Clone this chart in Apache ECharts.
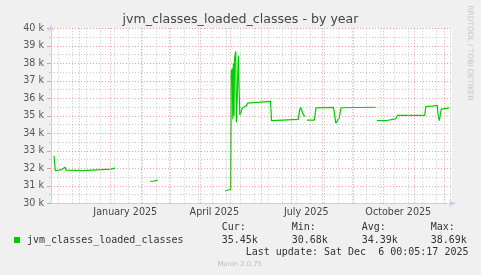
<!DOCTYPE html>
<html>
<head>
<meta charset="utf-8">
<script src="https://cdn.jsdelivr.net/npm/echarts@6/dist/echarts.min.js"></script>
<style>
html,body{margin:0;padding:0;background:#f0f0f0;}
#chart{width:481px;height:275px;}
</style>
</head>
<body>
<div id="chart"></div>
<script>
// ---- data ----
const titleText = 'jvm_classes_loaded_classes - by year';
const seriesName = 'jvm_classes_loaded_classes';
const seriesDates = [
  '2024-11-05 17:00','2024-11-07 00:00','2024-11-08 17:00','2024-11-10 17:00','2024-11-12 17:00',
  '2024-11-13 17:00','2024-11-15 17:00','2024-11-16 17:00','2024-11-17 17:00','2024-11-19 00:00',
  '2024-12-04 10:00','2024-12-05 00:00','2025-01-01 10:00','2025-01-01 22:00','2025-01-05 17:00',
  '2025-01-06 12:00',
  '2025-02-09 17:00','2025-02-13 12:00','2025-02-14 00:00','2025-02-17 10:00',
  '2025-02-18 12:00',
  '2025-04-25 17:00','2025-04-27 05:00','2025-05-01 10:00','2025-05-01 22:00','2025-05-03 00:00',
  '2025-05-03 12:00','2025-05-04 02:00','2025-05-04 17:00','2025-05-05 07:00','2025-05-06 10:00',
  '2025-05-07 02:00','2025-05-08 00:00','2025-05-09 00:00','2025-05-09 14:00','2025-05-10 12:00',
  '2025-05-11 17:00','2025-05-13 00:00','2025-05-14 17:00','2025-05-17 05:00','2025-05-18 05:00',
  '2025-05-19 10:00','2025-06-10 05:00','2025-06-11 05:00','2025-06-12 22:00','2025-07-08 00:00',
  '2025-07-09 05:00','2025-07-10 07:00','2025-07-12 05:00','2025-07-13 05:00','2025-07-14 12:00',
  '2025-07-15 12:00',
  '2025-07-16 12:00','2025-07-24 00:00','2025-07-25 17:00','2025-08-12 05:00','2025-08-13 17:00',
  '2025-08-14 12:00','2025-08-16 05:00','2025-08-18 00:00','2025-08-19 17:00','2025-09-23 05:00',
  '2025-09-24 05:00',
  '2025-09-24 12:00','2025-10-04 10:00','2025-10-05 05:00','2025-10-13 05:00','2025-10-15 05:00',
  '2025-11-11 12:00','2025-11-12 12:00','2025-11-19 10:00','2025-11-20 05:00','2025-11-23 22:00',
  '2025-11-24 17:00','2025-11-26 00:00','2025-11-28 00:00','2025-11-29 17:00','2025-12-06 00:00'
];
const seriesValues = [
  32700,31860,31940,31900,31880,
  31940,31980,32060,31900,31870,
  31870,31950,31950,32010,32010,
  null,
  31260,31270,31320,31330,
  null,
  30700,30780,30800,37500,37700,
  34800,38000,35000,38300,38690,
  34620,36200,38450,38530,35050,
  35200,35450,35550,35580,35720,
  35810,35820,34720,34800,34800,
  35300,35490,35490,35050,34960,
  null,
  34750,34750,35450,35480,34900,
  34580,34650,34890,35460,35490,
  null,
  34730,34730,34800,34820,35030,
  35030,35520,35550,35600,35600,
  35100,34720,35380,35430,35450
];
const xRange = ['2024-11-02 17:00','2025-12-08 17:00'];
const yMin = 30000, yMax = 40000, yStep = 1000;
const majorGridDates = ['2024-12-01','2025-01-01','2025-02-01','2025-03-01','2025-04-01','2025-05-01',
  '2025-06-01','2025-07-01','2025-08-01','2025-09-01','2025-10-01','2025-11-01','2025-12-01'];
const minorGridDates = ['2024-11-10','2024-11-24','2024-12-08','2024-12-22','2025-01-05','2025-01-19',
  '2025-02-02','2025-02-16','2025-03-02','2025-03-16','2025-03-30','2025-04-13','2025-04-27','2025-05-11',
  '2025-05-25','2025-06-08','2025-06-22','2025-07-06','2025-07-20','2025-08-03','2025-08-17','2025-08-31',
  '2025-09-14','2025-09-28','2025-10-12','2025-10-26','2025-11-09','2025-11-23','2025-12-07'];
const xLabelDates = ['2025-01-16','2025-04-15','2025-07-16','2025-10-16'];
const xLabelTexts = ['January 2025','April 2025','July 2025','October 2025'];
const statLabels = ['Cur:','Min:','Avg:','Max:'];
const statValues = ['35.45k','30.68k','34.39k','38.69k'];
const lastUpdate = 'Last update: Sat Dec  6 00:05:17 2025';
const sideText = 'RRDTOOL / TOBI OETIKER';
const footerText = 'Munin 2.0.75';

// ---- helpers ----
function ts(s){
  const m = s.match(/(\d+)-(\d+)-(\d+)(?: (\d+):(\d+))?/);
  return new Date(+m[1], +m[2]-1, +m[3], +(m[4]||0), +(m[5]||0)).getTime();
}
const lineData = seriesDates.map((d,i)=>[ts(d), seriesValues[i]]);
const labelTs = xLabelDates.map(ts);

const green = '#00cc00';
const axisColor = '#c9cfee';
const majorColor = 'rgba(225,110,110,0.65)';
const minorColor = 'rgba(170,170,170,0.65)';

const chart = echarts.init(document.getElementById('chart'), null, {renderer:'canvas'});

const gridMarks = [];
minorGridDates.forEach(d=>gridMarks.push({xAxis: ts(d), lineStyle:{color:minorColor, type:[1,2], width:1}}));
majorGridDates.forEach(d=>gridMarks.push({xAxis: ts(d), lineStyle:{color:majorColor, type:[1,2], width:1}}));
const tickMarks = [];
minorGridDates.forEach(d=>tickMarks.push([{coord:[ts(d), yMin], lineStyle:{color:minorColor, type:'solid', width:1}},{coord:[ts(d), yMin-110]}]));
majorGridDates.forEach(d=>tickMarks.push([{coord:[ts(d), yMin], lineStyle:{color:majorColor, type:'solid', width:1}},{coord:[ts(d), yMin-190]}]));

const graphics = [
  {type:'text', x:240.5, y:19.5, silent:true,
   style:{text:titleText, fill:'#444', font:'12.6px "DejaVu Sans"', align:'center', verticalAlign:'middle'}},
  {type:'text', x:470, y:53, rotation:-Math.PI/2, silent:true,
   style:{text:sideText, fill:'#c4c4c4', font:'7.4px "DejaVu Sans"', align:'center', verticalAlign:'middle'}},
  {type:'rect', shape:{x:14, y:237, width:6, height:6}, style:{fill:green}, silent:true},
  {type:'text', x:27, y:240, silent:true,
   style:{text:seriesName, fill:'#333', font:'10px "DejaVu Sans Mono"', align:'left', verticalAlign:'middle'}},
  {type:'text', x:245.7, y:252.5, silent:true,
   style:{text:lastUpdate, fill:'#333', font:'10px "DejaVu Sans Mono"', align:'left', verticalAlign:'middle'}},
  {type:'text', x:239.7, y:264, silent:true,
   style:{text:footerText, fill:'#bdbdbd', font:'6.8px "DejaVu Sans"', align:'center', verticalAlign:'middle'}}
];
const statX = [221.7, 291.7, 361.7, 430.7];
statLabels.forEach((t,i)=>{
  graphics.push({type:'text', x:statX[i], y:227.5, silent:true,
    style:{text:t, fill:'#333', font:'10px "DejaVu Sans Mono"', align:'left', verticalAlign:'middle'}});
  graphics.push({type:'text', x:statX[i], y:240, silent:true,
    style:{text:statValues[i], fill:'#333', font:'10px "DejaVu Sans Mono"', align:'left', verticalAlign:'middle'}});
});

chart.setOption({
  animation:false,
  backgroundColor:'#f0f0f0',
  grid:{left:51, right:29, top:28.3, bottom:71.7, show:true, backgroundColor:'#ffffff', borderWidth:0},
  xAxis:{
    type:'time', min:ts(xRange[0]), max:ts(xRange[1]),
    axisLine:{show:true, lineStyle:{color:axisColor, width:1}, symbol:['none','arrow'], symbolSize:[5,7], symbolOffset:[0,4]},
    axisTick:{show:false},
    splitLine:{show:false},
    axisLabel:{show:false}
  },
  yAxis:{
    type:'value', min:yMin, max:yMax, interval:yStep,
    axisLine:{show:true, lineStyle:{color:axisColor, width:1}, symbol:['none','arrow'], symbolSize:[5,7], symbolOffset:[0,4]},
    axisTick:{show:true, length:4, lineStyle:{color:majorColor}},
    minorTick:{show:true, splitNumber:2, length:2, lineStyle:{color:minorColor}},
    splitLine:{show:true, lineStyle:{color:majorColor, type:[1,2], width:1}},
    minorSplitLine:{show:true, lineStyle:{color:minorColor, type:[1,2], width:1}},
    axisLabel:{formatter:function(v){return (v/1000)+' k';}, color:'#555', fontSize:9.6, fontFamily:'DejaVu Sans', margin:7}
  },
  graphic: graphics,
  series:[
    {type:'line', data:[], z:1, clip:false, silent:true,
     markLine:{silent:true, symbol:['none','none'], label:{show:false}, animation:false,
       data: gridMarks.concat(tickMarks)}},
    {type:'line', name:seriesName, data:lineData, z:3, showSymbol:false, symbol:'none',
     connectNulls:false, lineStyle:{color:green, width:1.2}, itemStyle:{color:green}, silent:true}
  ]
});

// x-axis month labels placed through the axis scale
const labelY = chart.convertToPixel({yAxisIndex:0}, yMin);
const labelGraphics = labelTs.map((t,i)=>({
  type:'text', x: chart.convertToPixel({xAxisIndex:0}, t), y: labelY + 4, silent:true,
  style:{text:xLabelTexts[i], fill:'#444', font:'9.6px "DejaVu Sans"', align:'center', verticalAlign:'top'}
}));
chart.setOption({graphic: graphics.concat(labelGraphics)});
</script>
</body>
</html>
